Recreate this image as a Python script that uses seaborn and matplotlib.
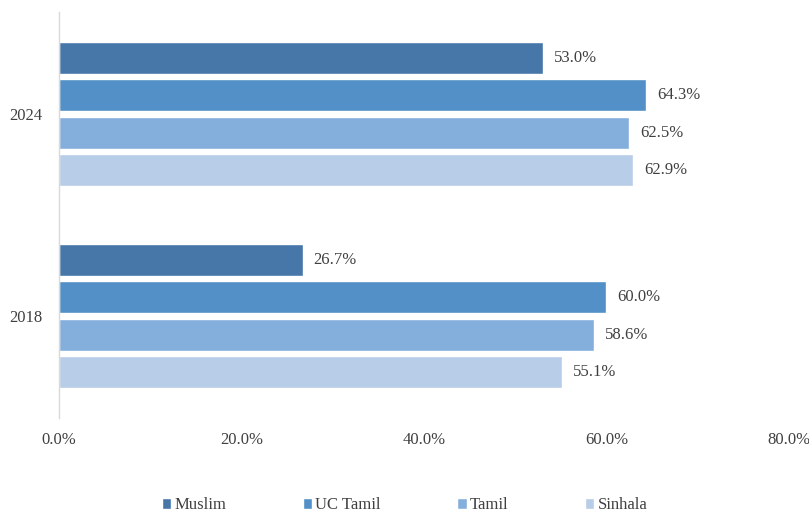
import matplotlib
matplotlib.use("Agg")
import matplotlib.pyplot as plt
import seaborn as sns
import pandas as pd

years = ["2024", "2018"]
groups = ["Muslim", "UC Tamil", "Tamil", "Sinhala"]
values_2024 = [53.0, 64.3, 62.5, 62.9]
values_2018 = [26.7, 60.0, 58.6, 55.1]
x_ticks = [0, 20, 40, 60, 80]
x_tick_labels = ["0.0%", "20.0%", "40.0%", "60.0%", "80.0%"]
palette = ["#4677A8", "#5290C7", "#84AFDC", "#B8CDE8"]

rows = []
for year, vals in zip(years, [values_2024, values_2018]):
    for g, v in zip(groups, vals):
        rows.append({"year": year, "group": g, "value": v})
df = pd.DataFrame(rows)

sns.set_style("white")
plt.rcParams["font.family"] = ["Liberation Serif", "DejaVu Serif"]
text_color = "#404040"
fs = 12

fig = plt.figure(figsize=(8.09, 5.15), dpi=100)
ax = fig.add_axes([59 / 809, 1 - 418 / 515, (789 - 59) / 809, (418 - 12) / 515])

sns.barplot(data=df, y="year", x="value", hue="group", order=years,
            hue_order=groups, palette=palette, orient="h",
            width=0.735, gap=0.14, saturation=1, ax=ax, legend=True)

ax.set_xlim(0, 80)
ax.set_ylim(1.505, -0.505)
ax.set_xticks(x_ticks)
ax.set_xticklabels(x_tick_labels, color=text_color, fontsize=fs)
ax.tick_params(axis="x", length=0, pad=10)
ax.tick_params(axis="y", length=0, pad=12, labelsize=fs, labelcolor=text_color)
ax.set_xlabel("")
ax.set_ylabel("")

for side in ["top", "right", "bottom"]:
    ax.spines[side].set_visible(False)
ax.spines["left"].set_color("#D9D9D9")
ax.spines["left"].set_linewidth(1.0)

for container in ax.containers:
    ax.bar_label(container, labels=[f"{v:.1f}%" for v in container.datavalues],
                 padding=8, fontsize=fs, color=text_color)

handles, labels = ax.get_legend_handles_labels()
ax.get_legend().remove()
fig.legend(handles, labels, loc="lower center", bbox_to_anchor=(0.5, -0.026),
           ncol=4, frameon=False, fontsize=fs, handlelength=0.55,
           handleheight=0.55, handletextpad=0.2, columnspacing=4.6,
           labelcolor=text_color)

fig.savefig("out.png", dpi=100)
